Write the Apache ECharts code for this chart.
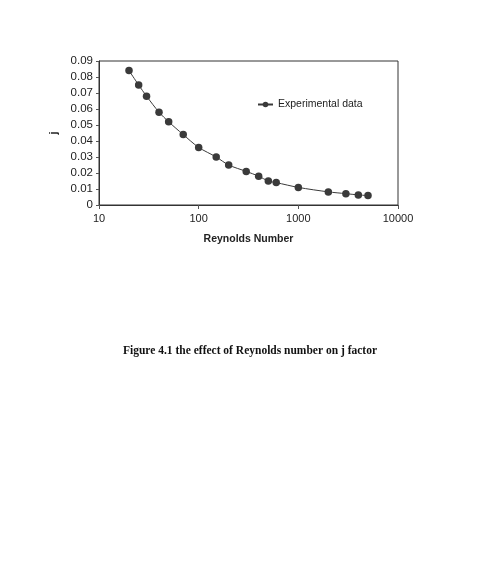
<!DOCTYPE html>
<html>
<head>
<meta charset="utf-8">
<script src="https://cdn.jsdelivr.net/npm/echarts@6/dist/echarts.min.js"></script>
<style>
  html, body { margin: 0; padding: 0; background: #fff; }
  #chart { width: 484px; height: 565px; }
</style>
</head>
<body>
<div id="chart"></div>
<script>
// Reynolds number vs j factor
const reynolds = [20, 25, 30, 40, 50, 70, 100, 150, 200, 300, 400, 500, 600, 1000, 2000, 3000, 4000, 5000]
const jFactor = [0.084, 0.075, 0.068, 0.058, 0.052, 0.044, 0.036, 0.030, 0.025, 0.021, 0.018, 0.015, 0.014, 0.011, 0.0082, 0.0071, 0.0063, 0.0059]
const seriesName = 'Experimental data'
const xTitle = 'Reynolds Number'
const yTitle = 'j'
const caption = 'Figure 4.1 the effect of Reynolds number on j factor'

const chart = echarts.init(document.getElementById('chart'))
const option = {
  animation: false,
  textStyle: { fontFamily: 'Liberation Sans, Arial, sans-serif' },
  grid: {
    show: true,
    left: 99,
    right: 86,
    top: 61,
    bottom: 360,
    borderColor: '#333',
    borderWidth: 1
  },
  legend: {
    left: 252,
    top: 94,
    itemWidth: 15,
    itemHeight: 7,
    itemGap: 4,
    textStyle: { fontSize: 10.5, color: '#222' },
    data: [seriesName]
  },
  xAxis: {
    type: 'log',
    logBase: 10,
    min: 10,
    max: 10000,
    name: xTitle,
    nameLocation: 'middle',
    nameGap: 29,
    nameTextStyle: { fontSize: 10.5, fontWeight: 'bold', color: '#222' },
    axisLine: { lineStyle: { color: '#333' } },
    axisTick: { show: true, length: 4, lineStyle: { color: '#555' } },
    axisLabel: {
      fontSize: 11,
      color: '#222',
      margin: 8,
      formatter: (v) => String(Math.round(v))
    },
    splitLine: { show: false },
    minorTick: { show: false }
  },
  yAxis: {
    type: 'value',
    min: 0,
    max: 0.09,
    interval: 0.01,
    name: yTitle,
    nameLocation: 'middle',
    nameGap: 37,
    nameRotate: 90,
    nameTextStyle: { fontSize: 11, fontWeight: 'bold', color: '#222' },
    axisLine: { show: true, lineStyle: { color: '#333' } },
    axisTick: { show: true, length: 3, inside: false, lineStyle: { color: '#555' } },
    axisLabel: {
      fontSize: 11.5,
      color: '#222',
      margin: 6,
      formatter: (v) => (v === 0 ? '0' : v.toFixed(2))
    },
    splitLine: { show: false }
  },
  series: [
    {
      name: seriesName,
      type: 'line',
      data: reynolds.map((r, i) => [r, jFactor[i]]),
      smooth: 0.3,
      symbol: 'circle',
      symbolSize: 7.5,
      itemStyle: { color: '#3a3a3a' },
      lineStyle: { color: '#3a3a3a', width: 1 }
    }
  ],
  graphic: [
    {
      type: 'text',
      left: 123,
      top: 345,
      style: {
        text: caption,
        font: 'bold 11.5px "Liberation Serif", "Times New Roman", serif',
        fill: '#111'
      }
    }
  ]
}
chart.setOption(option)
</script>
</body>
</html>
